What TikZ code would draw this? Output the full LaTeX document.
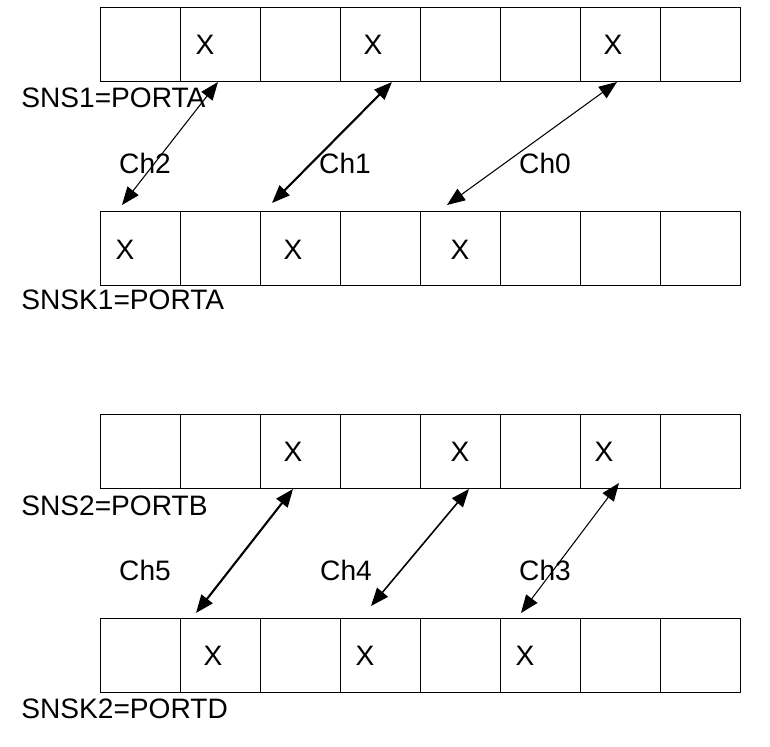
\documentclass[tikz,border=0pt]{standalone}
\usepackage{fontspec}
\setmainfont{Liberation Sans}
\usepackage{tikz}
\usetikzlibrary{arrows.meta,calc}

\begin{document}
\begin{tikzpicture}[
  every node/.style={font=\fontsize{16}{19}\selectfont},
  cell/.style={draw, line width=0.6pt, rectangle, minimum width=1.6cm, minimum height=1.48cm, inner sep=0pt, anchor=north west},
  port/.style={anchor=west, inner sep=0pt},
  chan/.style={{Triangle[length=0.36cm,width=0.28cm]}-{Triangle[length=0.36cm,width=0.28cm]}, line width=0.6pt},
  thick chan/.style={chan, line width=1.2pt}]
\useasboundingbox (0cm,0cm) rectangle (15.4cm,-14.94cm);
% the four registers
\foreach \r/\y in {a/-0.14, b/-4.22, c/-8.28, d/-12.36}
  \foreach \i in {1,...,8}
    \node[cell] (\r\i) at ({2.0+1.6*(\i-1)},\y) {};
\node[port] (sns1) at (0.42 cm,-1.96cm) {SNS1=PORTA};
\node[port] (snsk1) at (0.42 cm,-6.0cm) {SNSK1=PORTA};
\node[port] (sns2) at (0.42 cm,-10.12cm) {SNS2=PORTB};
\node[port] (snsk2) at (0.42 cm,-14.18cm) {SNSK2=PORTD};
% marked bits
\node (xa2) at (4.10 cm,-0.90cm) {X};
\node (xa4) at (7.46 cm,-0.90cm) {X};
\node (xa7) at (12.26 cm,-0.90cm) {X};
\node (xb1) at (2.50 cm,-5.0cm) {X};
\node (xb3) at (5.86 cm,-5.0cm) {X};
\node (xb5) at (9.20 cm,-5.0cm) {X};
\node (xc3) at (5.86 cm,-9.04cm) {X};
\node (xc5) at (9.20 cm,-9.04cm) {X};
\node (xc7) at (12.08 cm,-9.04cm) {X};
\node (xd2) at (4.26 cm,-13.12cm) {X};
\node (xd4) at (7.30 cm,-13.12cm) {X};
\node (xd6) at (10.50 cm,-13.12cm) {X};
% arrow ends
\coordinate (ta2) at (4.36 cm,-1.64cm);
\coordinate (ta4) at (7.84 cm,-1.64cm);
\coordinate (ta7) at (12.34 cm,-1.64cm);
\coordinate (tb1) at (2.44 cm,-4.10cm);
\coordinate (tb3) at (5.44 cm,-4.06cm);
\coordinate (tb5) at (8.94 cm,-4.10cm);
\coordinate (tc3) at (5.86 cm,-9.78cm);
\coordinate (tc5) at (9.38 cm,-9.78cm);
\coordinate (tc7) at (12.38 cm,-9.66cm);
\coordinate (td2) at (3.92 cm,-12.26cm);
\coordinate (td4) at (7.42 cm,-12.12cm);
\coordinate (td6) at (10.42 cm,-12.26cm);
% channels
\draw[chan] (ta2) -- (tb1);
\draw[thick chan] (ta4) -- (tb3);
\draw[chan] (ta7) -- (tb5);
\draw[thick chan] (tc3) -- (td2);
\draw[chan, line width=0.9pt] (tc5) -- (td4);
\draw[chan] (tc7) -- (td6);
\node (ch2) at (2.9 cm,-3.26cm) {Ch2};
\node (ch1) at (6.9 cm,-3.26cm) {Ch1};
\node (ch0) at (10.9 cm,-3.26cm) {Ch0};
\node (ch5) at (2.9 cm,-11.4cm) {Ch5};
\node (ch4) at (6.92 cm,-11.4cm) {Ch4};
\node (ch3) at (10.9 cm,-11.4cm) {Ch3};
\end{tikzpicture}
\end{document}
